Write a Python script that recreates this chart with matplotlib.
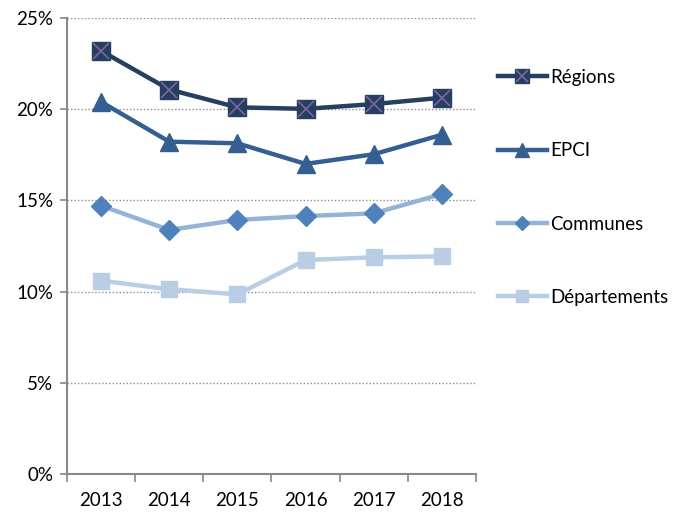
import numpy as np
import matplotlib
matplotlib.use("Agg")
import matplotlib.pyplot as plt
from matplotlib.ticker import FixedLocator, FuncFormatter
from matplotlib.lines import Line2D

plt.rcParams['font.family'] = ['Lato', 'DejaVu Sans']

years = ['2013', '2014', '2015', '2016', '2017', '2018']
regions = [23.2, 21.08, 20.1, 20.02, 20.28, 20.63]
epci = [20.4, 18.22, 18.13, 17.0, 17.53, 18.6]
communes = [14.71, 13.38, 13.93, 14.14, 14.29, 15.35]
departements = [10.6, 10.13, 9.85, 11.73, 11.88, 11.93]

x = np.arange(len(years))

fig = plt.figure(figsize=(6.78, 5.14), dpi=100)
ax = fig.add_axes([67 / 678, 40 / 514, (476 - 67) / 678, (474 - 18) / 514])

l1, = ax.plot(x, regions, color='#243F60', lw=3.2, marker='s', ms=13,
              mfc='#243F60', mec='#243F60', label='Régions', zorder=5)
ax.plot(x, regions, ls='none', marker='x', ms=11, mew=1.2, color='#8064A2', zorder=6)
l2, = ax.plot(x, epci, color='#365F91', lw=3.2, marker='^', ms=13,
              mfc='#365F91', mec='#365F91', label='EPCI', zorder=4)
l3, = ax.plot(x, communes, color='#95B3D7', lw=3.2, marker='D', ms=10,
              mfc='#4F81BD', mec='#4F81BD', label='Communes', zorder=3)
l4, = ax.plot(x, departements, color='#B9CDE5', lw=3.2, marker='s', ms=12,
              mfc='#B9CDE5', mec='#B9CDE5', label='Départements', zorder=2)

ax.set_xlim(-0.5, 5.5)
ax.set_ylim(0, 25)
ax.yaxis.set_major_locator(FixedLocator([0, 5, 10, 15, 20, 25]))
ax.yaxis.set_major_formatter(FuncFormatter(lambda v, p: '%d%%' % v))
ax.yaxis.grid(True, ls=(0, (1, 1.5)), color='#8C8C8C', lw=1)
ax.set_axisbelow(True)

ax.xaxis.set_major_locator(FixedLocator(np.arange(-0.5, 6, 1)))
ax.xaxis.set_major_formatter(FuncFormatter(lambda v, p: ''))
ax.xaxis.set_minor_locator(FixedLocator(x))
ax.set_xticklabels(years, minor=True)
ax.tick_params(axis='x', which='major', length=6, color='#888888', width=1.2)
ax.tick_params(axis='x', which='minor', length=0, pad=13, labelsize=13.5)
ax.tick_params(axis='y', length=5, color='#888888', width=1.2, labelsize=13.5, pad=5)

for s in ['top', 'right']:
    ax.spines[s].set_visible(False)
for s in ['left', 'bottom']:
    ax.spines[s].set_color('#888888')
    ax.spines[s].set_linewidth(1.5)

# petit x violet par-dessus le carré dans la légende
xmark = Line2D([], [], ls='none', marker='x', ms=11, mew=1.2, color='#8064A2')
h1 = (l1, xmark)
fig.legend([h1, l2, l3, l4], ['Régions', 'EPCI', 'Communes', 'Départements'],
           loc='upper left', bbox_to_anchor=(498 / 678, 1 - 69 / 514),
           frameon=False, fontsize=13.5, labelspacing=3.0, handlelength=2.6,
           handletextpad=0.2, borderaxespad=0, borderpad=0, markerscale=0.75)

fig.savefig('out.png', dpi=100)
